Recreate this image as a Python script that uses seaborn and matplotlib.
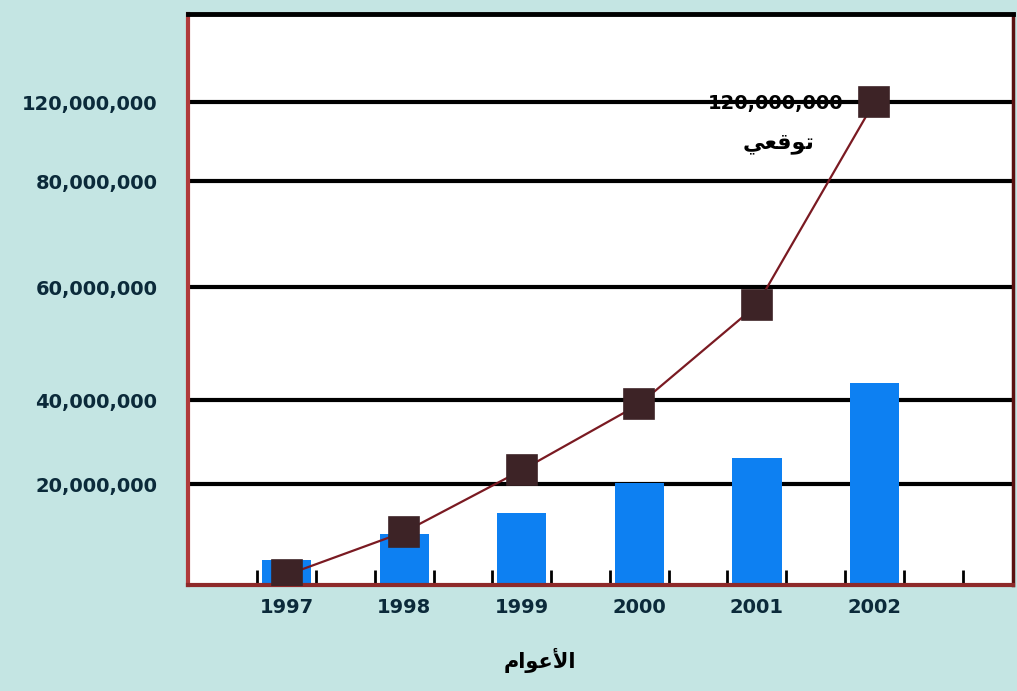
import numpy as np
import pandas as pd
import seaborn as sns
import matplotlib.pyplot as plt
from matplotlib.ticker import NullLocator

# Data
years = ['1997', '1998', '1999', '2000', '2001', '2002']
actual = [5.0e6, 10.1e6, 14.3e6, 20.2e6, 26.2e6, 43.0e6]
projected = [2.0e6, 10.5e6, 23.3e6, 39.0e6, 56.8e6, 120.0e6]
tick_values = [20e6, 40e6, 60e6, 80e6, 120e6]
tick_labels = ['20,000,000', '40,000,000', '60,000,000', '80,000,000', '120,000,000']
note_value = '120,000,000'
# Arabic is pre-shaped (presentation forms, visual order) since matplotlib does no shaping
x_title = '\uFEE1\uFE8D\uFEEE\uFECB\uFEF7\uFE8D'   # الأعوام
note_text = '\uFEF2\uFECC\uFED7\uFEEE\uFE97'        # توقعي

# The original chart spaces its gridlines unevenly, so use a piecewise scale
scale_vals = [0, 20e6, 40e6, 60e6, 80e6, 120e6, 165e6]
scale_pos = [0, 101, 185, 298, 404, 483, 571]


def fwd(v):
    return np.interp(v, scale_vals, scale_pos)


def inv(p):
    return np.interp(p, scale_pos, scale_vals)


df = pd.DataFrame({'year': years, 'actual': actual, 'projected': projected})

bg = '#c4e5e3'
fig = plt.figure(figsize=(10.17, 6.91), dpi=100, facecolor=bg)
ax = fig.add_axes([0.1849, 0.1534, 0.8112, 0.8263])
ax.set_facecolor('white')
ax.set_yscale('function', functions=(fwd, inv))

sns.barplot(data=df, x='year', y='actual', color='#0d80f2', width=0.42,
            saturation=1, ax=ax, zorder=2)
sns.pointplot(data=df, x='year', y='projected', color='#7a1a22', markers='s',
              errorbar=None, markersize=21, linewidth=1.6,
              markerfacecolor='#3d2326', markeredgecolor='#3d2326', ax=ax, zorder=3)

ax.set_ylim(0, 165e6)
ax.set_xlim(-0.84, 6.18)
ax.set_yticks(tick_values, tick_labels)
ax.yaxis.set_minor_locator(NullLocator())
ax.yaxis.grid(True, color='black', linewidth=3)
ax.set_axisbelow(True)

ax.set_xticks(range(len(years)), years)
ax.set_xticks(np.arange(-0.25, 6.0, 0.5), minor=True)
ax.tick_params(axis='x', which='major', length=0, pad=9)
ax.tick_params(axis='x', which='minor', direction='in', length=11, width=2, color='black')
ax.tick_params(axis='y', length=0, pad=22)
for lab in ax.get_xticklabels() + ax.get_yticklabels():
    lab.set_fontsize(14)
    lab.set_fontweight('bold')
    lab.set_color('#0b2a3a')

ax.set_ylabel('')
ax.set_xlabel(x_title, fontsize=15, fontweight='bold', color='black',
              family=['DejaVu Sans'])
ax.xaxis.set_label_coords(0.427, -0.11)

ax.spines['top'].set_color('black')
ax.spines['top'].set_linewidth(3.5)
ax.spines['left'].set_color('#b03a3a')
ax.spines['left'].set_linewidth(3)
ax.spines['right'].set_color('#5a1010')
ax.spines['right'].set_linewidth(2.5)
ax.spines['bottom'].set_color('#8e2a2a')
ax.spines['bottom'].set_linewidth(3)

ax.annotate(note_value, xy=(5, projected[-1]), xytext=(-71, -1),
            textcoords='offset points', ha='center', va='center',
            fontsize=14, fontweight='bold', color='black', zorder=4)
ax.annotate(note_text, xy=(5, projected[-1]), xytext=(-69, -30),
            textcoords='offset points', ha='center', va='center',
            fontsize=16, fontweight='bold', color='black', zorder=4,
            family=['DejaVu Sans'])

fig.savefig('out.png', dpi=100, facecolor=bg)
